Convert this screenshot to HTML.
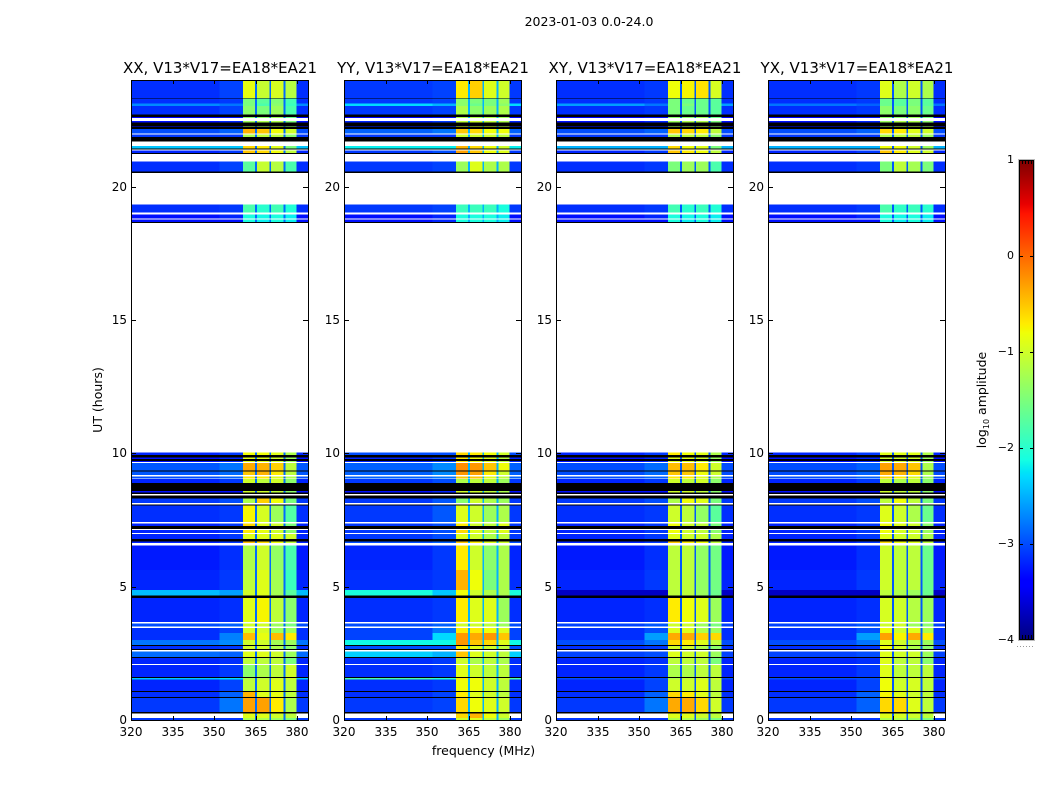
<!DOCTYPE html>
<html lang="en">
<head>
<meta charset="utf-8">
<title>2023-01-03 0.0-24.0</title>
<style>
html,body{margin:0;padding:0;background:#fff;width:1050px;height:800px;overflow:hidden}
svg{display:block}
text{font-family:"DejaVu Sans","Liberation Sans",sans-serif;fill:#000}
</style>
</head>
<body>
<svg id="chart" xmlns="http://www.w3.org/2000/svg" width="1050" height="800" viewBox="0 0 1050 800">
  <defs>
    <linearGradient id="jet-gradient" x1="0" y1="1" x2="0" y2="0"></linearGradient>
  </defs>
  <text x="589" y="26" font-size="12.5" text-anchor="middle">2023-01-03 0.0-24.0</text>
  <text x="0" y="0" font-size="12.5" text-anchor="middle" transform="translate(102,400) rotate(-90)">UT (hours)</text>
  <text x="483.500" y="755" font-size="12.5" text-anchor="middle">frequency (MHz)</text>
  <g id="panels"></g>
  <g id="colorbar"></g>
  <text font-size="12.5" text-anchor="middle" transform="translate(986,400) rotate(-90)">log<tspan dy="3" font-size="8">10</tspan><tspan dy="-3"> amplitude</tspan></text>
</svg>
<script>
// Frequency column edges in MHz: off-band, shoulder, four sub-bands separated by narrow gaps, off-band.
const freqEdges = [320, 352, 360.4, 364.8, 365.5, 370, 370.6, 375, 375.7, 379.8, 384];
const freqTicks = [320, 335, 350, 365, 380];
const hourTicks = [0, 5, 10, 15, 20];
const colorTicks = [1, 0, -1, -2, -3, -4];
const panelTitles = ['XX, V13*V17=EA18*EA21', 'YY, V13*V17=EA18*EA21', 'XY, V13*V17=EA18*EA21', 'YX, V13*V17=EA18*EA21'];
const gapValues = [-2.85, -2.5, -2.95, -2.95];
const offBandOffset = -0.1;

// Time-row edges in UT hours, top to bottom.
const rowEdges = [24,23.33,23.30,23.11,23.03,22.70,22.62,22.57,22.47,22.40,22.28,22.25,22.17,21.99,21.95,21.87,21.69,21.52,21.44,21.40,21.35,21.27,21.22,20.94,20.56,20.51,19.33,19.03,18.95,18.80,18.76,18.67,18.63,10.04,9.94,9.85,9.79,9.72,9.68,9.63,9.36,9.31,9.18,9.14,9.06,9.03,8.88,8.58,8.54,8.48,8.41,8.31,8.13,8.09,8.05,7.42,7.36,7.27,7.17,7.12,7.02,6.97,6.78,6.70,6.63,6.54,5.62,4.87,4.66,4.57,3.67,3.61,3.50,3.45,3.26,3.00,2.81,2.77,2.66,2.62,2.57,2.36,2.32,2.10,2.06,1.61,1.57,1.52,1.09,1.05,0.86,0.82,0.30,0.24,0.07,0];
// d = data row, k = black flagged row, w = blank row.
const rowKinds = ['d','k','d','d','d','k','d','w','d','k','d','k','d','w','d','k','w','d','k','w','d','k','w','d','k','w','d','w','d','w','d','k','w','d','k','d','k','d','w','d','k','d','w','d','w','d','k','d','k','w','k','d','w','k','d','w','d','k','w','d','w','d','k','d','w','d','d','d','k','d','w','d','w','d','d','d','k','d','k','w','d','k','d','w','d','k','d','d','k','d','k','d','k','d','d'];

// log10 amplitude per data row: [off-band, shoulder, band 1, band 2, band 3, band 4]
const valuesXX = [
[-3.05,-2.95,-0.85,-1.05,-0.95,-1.15],[-3.05,-3.0,-1.5,-1.7,-1.45,-1.85],[-2.6,-2.7,-1.5,-1.8,-1.4,-1.9],[-3.05,-2.95,-1.4,-1.5,-1.3,-1.8],
[-3.3,-3.2,-1.4,-1.4,-1.3,-1.6],[-3.2,-3.1,-1.3,-1.2,-1.2,-1.5],[-3.2,-3.1,-1.2,-1.2,-1.1,-1.4],[-2.9,-2.8,-0.4,-0.5,-0.8,-1.0],
[-3.0,-3.0,-1.2,-1.1,-1.1,-1.4],[-2.3,-2.3,-0.6,-0.7,-0.9,-1.5],[-3.1,-3.0,-0.5,-0.6,-0.8,-1.1],[-3.05,-2.95,-1.7,-1.05,-1.15,-1.8],
[-3.05,-3.0,-1.8,-2.0,-1.85,-2.05],[-3.2,-3.1,-2.1,-2.15,-2.1,-2.2],[-3.2,-3.2,-2.1,-2.2,-2.1,-2.2],[-3.1,-3.0,-0.8,-0.8,-0.9,-1.2],
[-3.2,-3.1,-0.9,-0.9,-1,-1.3],[-3.2,-3.1,-0.9,-0.9,-1,-1.3],[-2.85,-2.7,-0.35,-0.4,-0.55,-1.1],[-2.85,-2.75,-0.5,-0.4,-0.7,-1.1],
[-2.9,-2.8,-0.7,-0.7,-0.9,-1.2],[-3.1,-3.0,-1,-1.1,-1,-1.4],[-3.2,-3.2,-1.0,-1,-1.1,-1.4],[-3.0,-2.9,-1.2,-0.55,-0.8,-1.5],
[-3.05,-3.0,-0.75,-0.95,-1.3,-1.75],[-3.1,-3.0,-0.6,-0.9,-1.0,-1.5],[-3.1,-3,-0.7,-0.85,-1,-1.4],[-3.1,-3,-0.9,-0.9,-0.9,-1.0],
[-3.1,-3,-0.45,-0.6,-0.8,-1.1],[-3.15,-3.05,-1.2,-1.0,-1.35,-1.8],[-3.1,-3,-1.1,-0.9,-1.25,-1.9],[-2.35,-2.5,-1.0,-0.9,-1.25,-1.7],
[-3.1,-3.05,-0.9,-0.75,-1.1,-1.4],[-2.9,-2.8,-1,-1,-1.3,-1.5],[-3.05,-2.95,-0.95,-0.95,-1.3,-1.3],[-3.05,-2.65,-0.45,-0.85,-0.45,-0.7],
[-2.7,-2.6,-1,-1,-1.25,-1.3],[-3.05,-3,-1,-1,-1.2,-1.4],[-2.75,-2.8,-0.9,-0.9,-1.0,-1.3],[-3.1,-3.05,-1.1,-1.1,-1.1,-1.5],
[-3.1,-3.0,-1.4,-1.2,-1.1,-1.0],[-2.3,-2.2,-1.2,-1.1,-1,-1],[-3.1,-2.95,-1.1,-1,-0.9,-1.1],[-3.05,-2.8,-0.4,-0.9,-0.85,-1.1],
[-3,-2.7,-0.3,-0.3,-0.7,-1.2],[null,null,-0.9,-0.9,-1,-1.1],[-3,-3,-1.2,-1.2,-1.3,-1.5]
];
const valuesYY = [
[-3.0,-2.95,-0.7,-0.55,-0.9,-1.0],[-3.0,-2.95,-1.4,-1.5,-1.5,-1.3],[-2.2,-2.4,-1.4,-1.6,-1.5,-1.4],[-3.0,-2.95,-1.2,-1.4,-1.3,-1.2],
[-3.3,-3.2,-1.2,-1.2,-1.2,-1.3],[-3.1,-3.0,-1.1,-1.0,-1.1,-1.2],[-3.1,-3.0,-1.0,-1.0,-1.0,-1.1],[-2.8,-2.7,-0.5,-0.6,-0.8,-0.8],
[-3.0,-3.0,-1.0,-1.0,-1.0,-1.1],[-2.1,-2.1,-0.4,-0.6,-0.8,-1.0],[-3.0,-2.9,-0.3,-0.5,-0.8,-0.9],[-3.0,-2.95,-1.3,-0.9,-1.2,-1.2],
[-3.0,-2.95,-1.9,-1.9,-1.9,-2.1],[-3.2,-3.1,-2.1,-2.1,-2.1,-2.2],[-3.2,-3.1,-2.1,-2.1,-2.1,-2.2],[-2.9,-2.9,-0.6,-0.7,-0.8,-1.0],
[-3.1,-3.0,-0.7,-0.8,-0.9,-1.1],[-3.1,-3.0,-0.7,-0.8,-0.9,-1.1],[-2.8,-2.6,-0.2,-0.25,-0.5,-0.8],[-2.8,-2.6,-0.25,-0.3,-0.7,-1.0],
[-2.8,-2.7,-0.5,-0.5,-0.9,-1.1],[-3.0,-2.9,-1.2,-1.1,-1.1,-1.3],[-3.2,-3.1,-1.0,-1.0,-1.1,-1.2],[-3.0,-2.85,-1.4,-1.0,-1.2,-1.3],
[-3.0,-2.85,-0.9,-1.0,-1.3,-1.2],[-3.0,-2.9,-0.7,-1.0,-1.1,-0.9],[-3.0,-2.9,-0.6,-0.9,-1.1,-0.9],[-3.0,-2.9,-0.9,-1.0,-1.2,-1.1],
[-2.9,-2.8,-0.5,-0.7,-0.9,-1.0],[-3.1,-3.0,-0.7,-1.0,-1.4,-1.2],[-3.05,-3.0,-0.4,-0.8,-1.5,-1.2],[-2.0,-2.3,-0.8,-1.0,-1.2,-1.2],
[-3.05,-3.0,-0.7,-0.9,-0.9,-1.3],[-2.9,-2.8,-1.0,-1.0,-1.1,-1.3],[-2.95,-2.7,-0.7,-0.7,-0.8,-0.9],[-2.95,-2.2,-0.25,-0.35,-0.25,-0.5],
[-2.05,-2.05,-0.25,-0.5,-0.6,-0.9],[-2.9,-2.9,-0.7,-0.9,-1.0,-1.1],[-2.25,-2.4,-0.5,-0.9,-1.0,-1.1],[-3.05,-3.0,-1.0,-1.2,-1.1,-1.2],
[-3.05,-3.0,-0.9,-1.0,-1.1,-1.1],[-1.7,-1.9,-0.7,-0.8,-1.0,-1.0],[-3.05,-3.0,-0.8,-0.8,-1.0,-1.1],[-3.05,-2.95,-0.7,-0.9,-1.0,-1.1],
[-3.0,-2.95,-0.6,-0.8,-0.9,-1.0],[null,null,-0.6,-0.4,-0.8,-1.0],[-3,-3,-1.0,-0.9,-1.1,-1.3]
];
const valuesXY = [
[-3.05,-3.0,-0.8,-0.75,-0.65,-0.95],[-3.05,-3.0,-1.5,-1.6,-1.6,-1.7],[-2.5,-2.7,-1.5,-1.5,-1.6,-1.7],[-3.05,-3.0,-1.5,-1.6,-1.6,-1.7],
[-3.3,-3.2,-1.4,-1.4,-1.3,-1.6],[-3.2,-3.1,-1.3,-1.2,-1.2,-1.5],[-3.2,-3.1,-1.2,-1.2,-1.1,-1.4],[-2.9,-2.8,-0.5,-0.6,-0.7,-1.1],
[-3.0,-3.0,-1.2,-1.1,-1.1,-1.4],[-2.4,-2.4,-0.6,-0.8,-0.9,-1.5],[-3.1,-3.0,-0.5,-0.7,-0.8,-1.1],[-3.05,-3.0,-1.5,-1.3,-1.3,-1.8],
[-3.05,-3.0,-1.85,-2.0,-1.9,-2.05],[-3.2,-3.1,-2.1,-2.15,-2.1,-2.2],[-3.2,-3.2,-2.1,-2.2,-2.1,-2.2],[-3.1,-3.0,-0.7,-0.8,-0.9,-1.2],
[-3.2,-3.1,-0.9,-0.9,-1,-1.3],[-3.2,-3.1,-0.9,-0.9,-1,-1.3],[-2.9,-2.75,-0.45,-0.45,-0.7,-1.0],[-2.9,-2.75,-0.5,-0.5,-0.8,-1.0],
[-2.9,-2.8,-0.7,-0.7,-0.9,-1.2],[-3.1,-3.0,-1,-1.1,-1,-1.4],[-3.2,-3.2,-1.0,-1,-1.1,-1.4],[-3.0,-2.9,-1.2,-0.8,-0.9,-1.5],
[-3.05,-3.0,-1.0,-1.1,-1.35,-1.7],[-3.1,-3.0,-0.8,-1.0,-1.1,-1.5],[-3.1,-3,-0.8,-1.0,-1.1,-1.4],[-3.1,-3,-0.9,-1.0,-1.0,-1.2],
[-3.1,-3,-0.5,-0.7,-0.8,-1.1],[-3.15,-3.05,-1.1,-1.1,-1.35,-1.55],[-3.1,-3,-1.1,-1.1,-1.35,-1.55],[-3.6,-3.6,-1.1,-1.1,-1.3,-1.6],
[-3.1,-3.05,-0.7,-0.8,-0.9,-1.3],[-2.95,-2.85,-1,-1,-1.3,-1.5],[-3.05,-2.9,-0.9,-0.9,-1.2,-1.3],[-3.05,-2.5,-0.35,-0.35,-0.55,-0.6],
[-2.9,-2.7,-0.6,-0.7,-0.9,-1.1],[-3.05,-3,-1,-1,-1.2,-1.4],[-2.95,-2.9,-0.9,-1.0,-1.0,-1.3],[-3.1,-3.05,-1.1,-1.1,-1.1,-1.5],
[-3.1,-3.0,-1.2,-1.2,-1.1,-1.1],[-2.9,-2.9,-1.2,-1.1,-1,-1],[-3.1,-2.95,-1.0,-1,-0.9,-1.1],[-3.05,-2.8,-0.6,-0.7,-0.9,-1.1],
[-3,-2.7,-0.35,-0.35,-0.6,-1.0],[null,null,-0.9,-0.9,-1,-1.1],[-3,-3,-1.2,-1.2,-1.3,-1.5]
];
const valuesYX = [
[-3.05,-3.0,-0.9,-1.2,-1.0,-1.2],[-3.05,-3.0,-1.6,-1.7,-1.5,-1.7],[-2.7,-2.8,-1.6,-1.7,-1.5,-1.7],[-3.05,-3.0,-1.4,-1.5,-1.4,-1.6],
[-3.3,-3.2,-1.4,-1.4,-1.3,-1.5],[-3.2,-3.1,-1.3,-1.2,-1.2,-1.4],[-3.2,-3.1,-1.2,-1.2,-1.1,-1.3],[-2.9,-2.8,-0.6,-0.7,-0.9,-1.0],
[-3.0,-3.0,-1.2,-1.1,-1.1,-1.3],[-2.4,-2.4,-0.8,-0.8,-1.0,-1.3],[-3.1,-3.0,-0.5,-0.7,-0.9,-1.0],[-3.05,-3.0,-1.5,-1.1,-1.25,-1.5],
[-3.05,-3.0,-1.8,-1.95,-1.9,-2.0],[-3.2,-3.1,-2.1,-2.15,-2.1,-2.2],[-3.2,-3.2,-2.1,-2.2,-2.1,-2.2],[-3.1,-3.0,-0.9,-0.9,-0.9,-1.2],
[-3.2,-3.1,-1.0,-1.0,-1,-1.3],[-3.2,-3.1,-1.0,-1.0,-1,-1.3],[-2.9,-2.8,-0.3,-0.35,-0.5,-1.2],[-2.9,-2.8,-0.35,-0.4,-0.6,-1.2],
[-2.9,-2.8,-0.6,-0.7,-0.9,-1.3],[-3.1,-3.0,-1.1,-1.2,-1.1,-1.4],[-3.2,-3.2,-1.0,-1.1,-1.1,-1.4],[-3.0,-2.9,-1.1,-0.8,-1.1,-1.5],
[-3.05,-3.0,-0.9,-1.0,-1.2,-1.6],[-3.1,-3.0,-0.8,-0.9,-1.0,-1.4],[-3.1,-3,-0.8,-0.95,-1.0,-1.3],[-3.1,-3,-0.9,-1.0,-1.0,-1.2],
[-3.1,-3,-0.6,-0.8,-0.9,-1.1],[-3.15,-3.05,-1.0,-1.1,-1.1,-1.6],[-3.1,-3,-1.0,-1.1,-1.1,-1.6],[-3.6,-3.6,-1.1,-1.2,-1.3,-1.6],
[-3.1,-3.05,-0.95,-1.0,-1.15,-1.3],[-2.95,-2.85,-1,-1,-1.3,-1.4],[-3.05,-2.9,-0.8,-1.0,-0.9,-1.2],[-3.05,-2.5,-0.3,-0.75,-0.35,-0.7],
[-2.9,-2.7,-0.9,-1,-1.15,-1.3],[-3.05,-3,-0.8,-1,-1.2,-1.4],[-2.95,-2.9,-0.9,-1.0,-1.0,-1.3],[-3.1,-3.05,-0.9,-1.1,-1.1,-1.4],
[-3.1,-3.0,-0.9,-1.1,-1.1,-1.1],[-2.9,-2.9,-0.9,-1.1,-1,-1],[-3.1,-2.95,-0.8,-1,-0.95,-1.1],[-3.05,-2.8,-0.75,-0.9,-1.0,-1.1],
[-3,-2.8,-0.6,-0.6,-0.9,-1.1],[null,null,-0.9,-0.95,-1,-1.1],[-3,-3,-1.2,-1.2,-1.3,-1.5]
];
const panelValues = [valuesXX, valuesYY, valuesXY, valuesYX];

const SVG_NS = 'http://www.w3.org/2000/svg';
const panelLefts = [131, 344, 556, 768];
const PANEL_W = 177, PANEL_TOP = 80, PANEL_BOTTOM = 720;
const COLOR_MIN = -4, COLOR_MAX = 1;
const BAR_X = 1019, BAR_W = 15, BAR_TOP = 160, BAR_BOTTOM = 640;

function interp(t, pts) {
  for (let i = 1; i < pts.length; i++) {
    if (t <= pts[i][0]) {
      const a = pts[i - 1], b = pts[i];
      return a[1] + (b[1] - a[1]) * (t - a[0]) / (b[0] - a[0]);
    }
  }
  return pts[pts.length - 1][1];
}
function jet(t) {
  const r = interp(t, [[0,0],[0.35,0],[0.66,1],[0.89,1],[1,0.5]]);
  const g = interp(t, [[0,0],[0.125,0],[0.375,1],[0.64,1],[0.91,0],[1,0]]);
  const b = interp(t, [[0,0.5],[0.11,1],[0.34,1],[0.65,0],[1,0]]);
  return 'rgb(' + Math.round(r * 255) + ',' + Math.round(g * 255) + ',' + Math.round(b * 255) + ')';
}
function colorOf(v) {
  return jet(Math.max(0, Math.min(1, (v - COLOR_MIN) / (COLOR_MAX - COLOR_MIN))));
}
function xOf(left, f) { return left + (f - 320) * 2.77; }
function yOf(h) { return PANEL_BOTTOM - h * (PANEL_BOTTOM - PANEL_TOP) / 24; }
function make(tag, parent) {
  const el = document.createElementNS(SVG_NS, tag);
  parent.appendChild(el);
  return el;
}
function box(el, x, y, w, h, fill) {
  el.setAttribute('x', x);
  el.setAttribute('y', y);
  el.setAttribute('width', w);
  el.setAttribute('height', h);
  el.setAttribute('fill', fill);
  el.setAttribute('shape-rendering', 'crispEdges');
}
function label(el, x, y, size, anchor, content) {
  el.setAttribute('x', x);
  el.setAttribute('y', y);
  el.setAttribute('font-size', size);
  el.setAttribute('text-anchor', anchor);
  el.textContent = content;
}

const panelsGroup = document.getElementById('panels');
panelValues.forEach(function (values, p) {
  const left = panelLefts[p];
  const g = make('g', panelsGroup);
  
  

  let dataIndex = 0;
  rowKinds.forEach(function (kind, r) {
    const y0 = yOf(rowEdges[r]);
    const y1 = yOf(rowEdges[r + 1]);
    if (kind === 'k') {
      const flag = make('rect', g);
      
      
      box(flag, left, y0, PANEL_W, y1 - y0, '#000');
    }
    if (kind === 'd') {
      const v = values[dataIndex++];
      const off = v[0] === null ? null : v[0] + offBandOffset;
      const shoulder = v[1] === null ? null : v[1] + offBandOffset;
      const cols = [off, shoulder, v[2], gapValues[p], v[3], gapValues[p], v[4], gapValues[p], v[5], off];
      cols.forEach(function (val, c) {
        if (val === null) return;
        const x0 = xOf(left, freqEdges[c]);
        const x1 = xOf(left, freqEdges[c + 1]);
        const cell = make('rect', g);
        
        
        box(cell, x0, y0, x1 - x0, y1 - y0, colorOf(val));
      });
    }
  });

  const frame = make('rect', g);
  
  
  frame.setAttribute('x', left + 0.5);
  frame.setAttribute('y', PANEL_TOP + 0.5);
  frame.setAttribute('width', PANEL_W);
  frame.setAttribute('height', PANEL_BOTTOM - PANEL_TOP);
  frame.setAttribute('fill', 'none');
  frame.setAttribute('stroke', '#000');
  frame.setAttribute('stroke-width', '1');
  frame.setAttribute('shape-rendering', 'crispEdges');

  freqTicks.forEach(function (f) {
    const x = Math.round(xOf(left, f));
    const bottomTick = make('rect', g);
    
    
    box(bottomTick, x, PANEL_BOTTOM - 4, 1, 4, '#000');
    const topTick = make('rect', g);
    
    
    box(topTick, x, PANEL_TOP, 1, 4, '#000');
    const t = make('text', g);
    
    
    label(t, x, 736, 12, 'middle', String(f));
  });

  hourTicks.forEach(function (h) {
    const y = Math.round(yOf(h));
    const leftTick = make('rect', g);
    
    
    box(leftTick, left, y, 5, 1, '#000');
    const rightTick = make('rect', g);
    
    
    box(rightTick, left + PANEL_W - 5, y, 5, 1, '#000');
    const t = make('text', g);
    
    
    label(t, left - 4, y + 4, 12, 'end', String(h));
  });

  const title = make('text', g);
  
  
  label(title, left + 89, 73, 15, 'middle', panelTitles[p]);
});

// Colorbar
const grad = document.getElementById('jet-gradient');
[0, 0.11, 0.125, 0.34, 0.35, 0.375, 0.64, 0.65, 0.66, 0.89, 0.91, 1].forEach(function (t) {
  const stop = make('stop', grad);
  stop.setAttribute('offset', t);
  stop.setAttribute('stop-color', jet(t));
});
const barGroup = document.getElementById('colorbar');
function barY(v) {
  return BAR_BOTTOM - (v - COLOR_MIN) / (COLOR_MAX - COLOR_MIN) * (BAR_BOTTOM - BAR_TOP);
}
const barEdge = make('rect', barGroup);


box(barEdge, BAR_X - 1, BAR_TOP - 1, BAR_W + 2, BAR_BOTTOM - BAR_TOP + 2, '#bbb');
const barBlack = make('rect', barGroup);


box(barBlack, BAR_X, BAR_TOP, BAR_W, BAR_BOTTOM - BAR_TOP, '#000');
const barFill = make('rect', barGroup);


box(barFill, BAR_X + 1, BAR_TOP + 1, BAR_W - 2, BAR_BOTTOM - BAR_TOP - 2, 'url(#jet-gradient)');
colorTicks.forEach(function (v) {
  const y = Math.round(barY(v));
  const tl = make('rect', barGroup);
  
  
  box(tl, BAR_X, Math.min(y, BAR_BOTTOM - 1), 4, 1, '#000');
  const tr = make('rect', barGroup);
  
  
  box(tr, BAR_X + BAR_W - 4, Math.min(y, BAR_BOTTOM - 1), 4, 1, '#000');
  const t = make('text', barGroup);
  
  
  label(t, BAR_X - 5, y + 3, 11, 'end', v < 0 ? '\u2212' + Math.abs(v) : String(v));
});
[3, 6, 9, 12].forEach(function (dx) {
  const topMinor = make('rect', barGroup);
  
  
  box(topMinor, BAR_X + dx, BAR_TOP, 1, 4, '#000');
  const bottomMinor = make('rect', barGroup);
  
  
  box(bottomMinor, BAR_X + dx, BAR_BOTTOM - 5, 1, 5, '#000');
});
const dots = make('line', barGroup);


dots.setAttribute('x1', BAR_X - 2);
dots.setAttribute('x2', BAR_X + BAR_W);
dots.setAttribute('y1', 646.5);
dots.setAttribute('y2', 646.5);
dots.setAttribute('stroke', '#999');
dots.setAttribute('stroke-width', '1');
dots.setAttribute('stroke-dasharray', '1 2');
</script>
</body>
</html>
